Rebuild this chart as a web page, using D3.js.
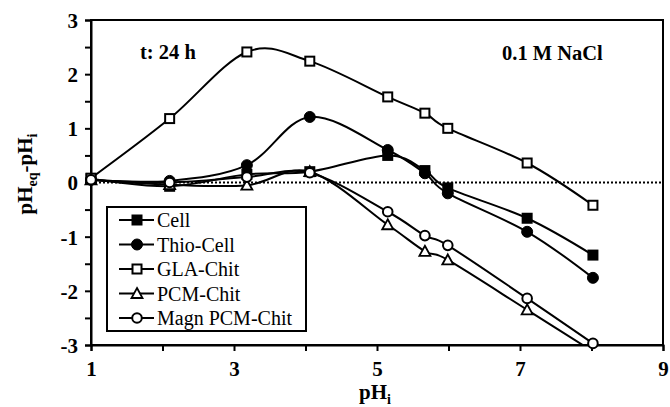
<!DOCTYPE html>
<html><head><meta charset="utf-8">
<script src="https://cdn.jsdelivr.net/npm/d3@7"></script>
<style>body{margin:0;background:#fff}svg{display:block}</style>
</head><body><svg id="c" width="670" height="407"></svg>
<script>
const xTicks = [1,2,3,4,5,6,7,8,9];
const xLabels = [1,3,5,7,9];
const yTicks = [-3,-2.5,-2,-1.5,-1,-0.5,0,0.5,1,1.5,2,2.5,3];
const yLabels = [-3,-2,-1,0,1,2,3];
const pHi = [1, 2.1, 3.18, 4.06, 5.15, 5.67, 5.99, 7.1, 8.02];
const cell = [0.07, -0.07, 0.15, 0.2, 0.5, 0.22, -0.1, -0.66, -1.34];
const thioCell = [0.05, 0.03, 0.32, 1.21, 0.6, 0.17, -0.2, -0.91, -1.76];
const glaChit = [0.08, 1.18, 2.41, 2.24, 1.58, 1.28, 1.0, 0.36, -0.42];
const pcmChit = [0.05, -0.04, -0.05, 0.2, -0.78, -1.27, -1.43, -2.35, -3.12];
const magnPcmChit = [0.05, 0.0, 0.1, 0.18, -0.54, -0.98, -1.16, -2.14, -2.97];
const seriesNames = ["Cell","Thio-Cell","GLA-Chit","PCM-Chit","Magn PCM-Chit"];
const seriesVals = [cell, thioCell, glaChit, pcmChit, magnPcmChit];
const markers = ["sqFill","circFill","sqOpen","triOpen","circOpen"];

const svg = d3.select("#c");
const L=91,R=663,T=20,B=345;
const x = d3.scaleLinear().domain([1,9]).range([L,R]);
const y = d3.scaleLinear().domain([-3,3]).range([B,T]);
const font = "'Liberation Serif','Times New Roman',serif";

svg.append("defs").append("clipPath").attr("id","clip")
  .append("rect").attr("x",L).attr("y",T).attr("width",R-L).attr("height",B-T);

// zero dotted line
svg.append("line").attr("x1",x(1)).attr("x2",x(9)).attr("y1",y(0)).attr("y2",y(0))
  .attr("stroke","#000").attr("stroke-width",2).attr("stroke-dasharray","2,2");

// frame
svg.append("rect").attr("x",L).attr("y",T).attr("width",R-L).attr("height",B-T)
  .attr("fill","none").attr("stroke","#000").attr("stroke-width",2);

// axes
const xAxis = d3.axisBottom(x).tickValues(xTicks).tickSize(6).tickFormat(d=>xLabels.includes(d)?d:"");
const gx = svg.append("g").attr("transform",`translate(0,${B})`).call(xAxis);
const yAxis = d3.axisLeft(y).tickValues(yTicks).tickSize(6).tickFormat(d=>yLabels.includes(d)?d:"");
const gy = svg.append("g").attr("transform",`translate(${L},0)`).call(yAxis);
[gx,gy].forEach(g=>{
  g.select(".domain").attr("stroke","#000").attr("stroke-width",2);
  g.selectAll(".tick line").attr("stroke","#000").attr("stroke-width",2);
  g.selectAll("text").attr("font-family",font).attr("font-weight","bold").attr("font-size",21).attr("fill","#000");
});
gx.selectAll("text").attr("dy",null).attr("y",31);
gy.selectAll("text").attr("x",-13).attr("dy","0.35em");

// lines
const line = d3.line().x(d=>x(d[0])).y(d=>y(d[1])).curve(d3.curveCardinal.tension(0));
const gl = svg.append("g").attr("clip-path","url(#clip)");
seriesVals.forEach(v=>{
  gl.append("path").attr("d",line(pHi.map((p,i)=>[p,v[i]])))
    .attr("fill","none").attr("stroke","#000").attr("stroke-width",2);
});

function marker(g, type, cx, cy){
  const s=9;
  if(type==="sqFill"||type==="sqOpen"){
    g.append("rect").attr("x",cx-s/2).attr("y",cy-s/2).attr("width",s).attr("height",s)
      .attr("fill",type==="sqFill"?"#000":"#fff").attr("stroke","#000").attr("stroke-width",2);
  } else if(type==="circFill"||type==="circOpen"){
    g.append("circle").attr("cx",cx).attr("cy",cy).attr("r",type==="circFill"?5.5:4.8)
      .attr("fill",type==="circFill"?"#000":"#fff").attr("stroke","#000").attr("stroke-width",type==="circFill"?1:2);
  } else {
    g.append("path").attr("d",`M${cx},${cy-5.5}L${cx+5.5},${cy+4.5}L${cx-5.5},${cy+4.5}Z`)
      .attr("fill","#fff").attr("stroke","#000").attr("stroke-width",1.8);
  }
}
const gm2 = svg.append("g");
seriesVals.forEach((v,si)=>{
  pHi.forEach((p,i)=>{
    if(v[i]>=-3.05) marker(gm2, markers[si], x(p), y(Math.max(v[i],-3)));
  });
});

// annotations
svg.append("text").attr("x",140).attr("y",59).text("t: 24 h")
  .attr("font-family",font).attr("font-weight","bold").attr("font-size",20.5);
svg.append("text").attr("x",502).attr("y",60).text("0.1 M NaCl")
  .attr("font-family",font).attr("font-weight","bold").attr("font-size",20.5);

// axis titles
const yt = svg.append("text").attr("transform","translate(32,174) rotate(-90)")
  .attr("text-anchor","middle").attr("font-family",font).attr("font-weight","bold").attr("font-size",21);
yt.append("tspan").text("pH");
yt.append("tspan").text("eq").attr("font-size",14).attr("dy",5);
yt.append("tspan").text("-pH").attr("dy",-5);
yt.append("tspan").text("i").attr("font-size",14).attr("dy",5);
const xt = svg.append("text").attr("x",375).attr("y",399)
  .attr("text-anchor","middle").attr("font-family",font).attr("font-weight","bold").attr("font-size",21);
xt.append("tspan").text("pH");
xt.append("tspan").text("i").attr("font-size",14).attr("dy",5);

// legend
const lg = svg.append("g");
lg.append("rect").attr("x",107).attr("y",207).attr("width",199).attr("height",124)
  .attr("fill","#fff").attr("stroke","#000").attr("stroke-width",2);
seriesNames.forEach((n,i)=>{
  const yy = 220 + i*24.5;
  lg.append("line").attr("x1",119).attr("x2",154).attr("y1",yy).attr("y2",yy).attr("stroke","#000").attr("stroke-width",2);
  marker(lg, markers[i], 137, yy);
  lg.append("text").attr("x",157).attr("y",yy).attr("dy","0.35em").text(n)
    .attr("font-family",font).attr("font-size",20);
});
</script></body></html>
